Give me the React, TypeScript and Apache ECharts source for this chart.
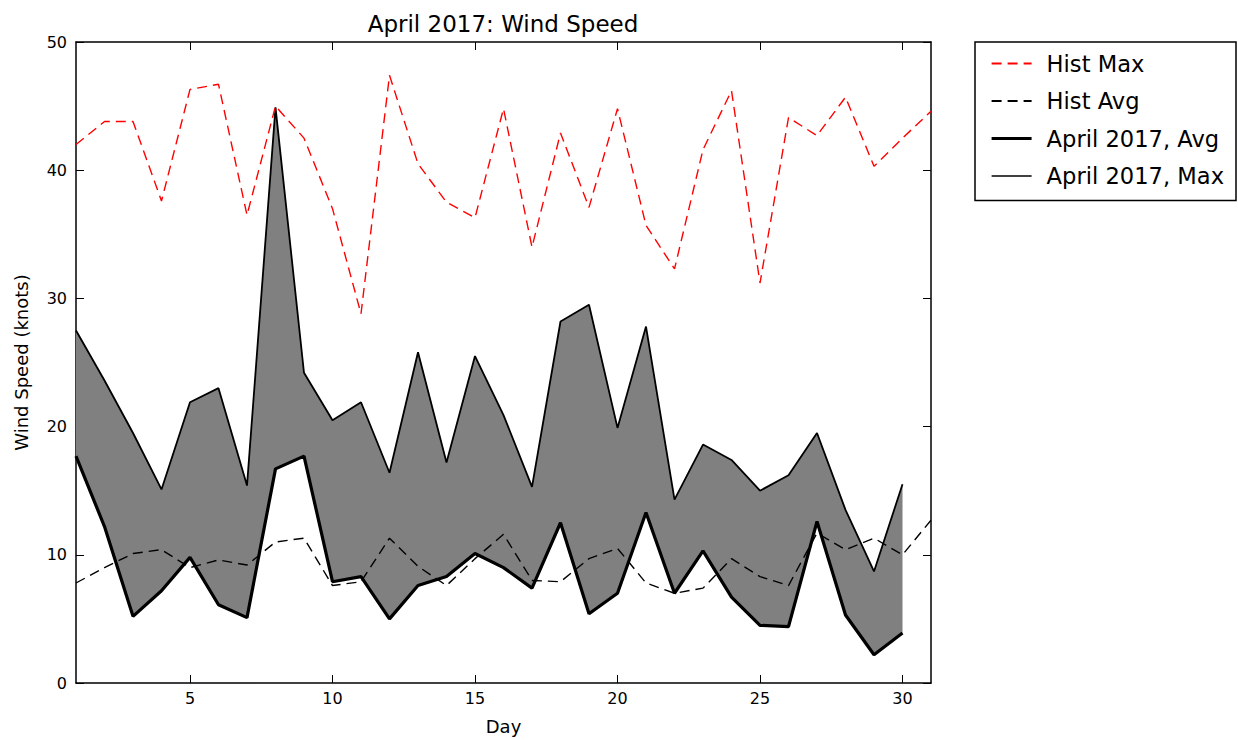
import React, { useEffect, useRef } from "react";
import * as echarts from "echarts";

const days: number[] = Array.from({ length: 31 }, (_, i) => i + 1);
const histMax: number[] = [42.0, 43.8, 43.8, 37.6, 46.3, 46.7, 36.5, 45.0, 42.5, 37.0, 28.8, 47.4, 40.5, 37.5, 36.3, 44.8, 34.0, 42.9, 37.1, 44.8, 35.7, 32.3, 41.6, 46.2, 31.2, 44.1, 42.7, 45.7, 40.3, 42.5, 44.6];
const histAvg: number[] = [7.8, 9.0, 10.1, 10.4, 9.0, 9.6, 9.2, 11.0, 11.3, 7.6, 7.9, 11.3, 9.1, 7.6, 9.7, 11.6, 8.0, 7.9, 9.7, 10.5, 7.8, 7.0, 7.4, 9.7, 8.3, 7.6, 11.7, 10.4, 11.3, 10.0, 12.7];
const aprAvg: number[] = [17.7, 12.2, 5.2, 7.2, 9.8, 6.1, 5.1, 16.7, 17.7, 7.9, 8.3, 5.0, 7.6, 8.3, 10.1, 9.0, 7.4, 12.5, 5.4, 7.0, 13.3, 7.0, 10.3, 6.7, 4.5, 4.4, 12.6, 5.3, 2.2, 3.9];
const aprMax: number[] = [27.5, 23.6, 19.5, 15.1, 21.9, 23.0, 15.4, 44.9, 24.2, 20.5, 21.9, 16.4, 25.8, 17.2, 25.5, 20.9, 15.3, 28.2, 29.5, 19.9, 27.8, 14.3, 18.6, 17.4, 15.0, 16.2, 19.5, 13.5, 8.7, 15.5];
const xTicks: number[] = [5, 10, 15, 20, 25, 30];

const FONT = "DejaVu Sans";

export default function App() {
  const ref = useRef<HTMLDivElement>(null);
  useEffect(() => {
    if (!ref.current) return;
    const chart = echarts.init(ref.current, null, { renderer: "svg" });
    const pair = (arr: number[]) => arr.map((v, i) => [days[i], v]);
    const bandRows = aprAvg.map((v, i) => [days[i], v, aprMax[i]]);
    const axisCommon = {
      type: "value" as const,
      axisLine: { show: true, onZero: false, lineStyle: { color: "#000", width: 1.5 } },
      splitLine: { show: false },
      axisTick: { show: true, inside: true, length: 8, lineStyle: { color: "#000", width: 1 } },
    };
    chart.setOption({
      animation: false,
      backgroundColor: "#fff",
      title: {
        text: "April 2017: Wind Speed",
        left: 498,
        top: 7,
        textAlign: "center",
        textStyle: { fontFamily: FONT, fontSize: 23, fontWeight: "normal", color: "#000" },
      },
      legend: {
        orient: "vertical",
        left: 975,
        top: 42,
        data: [
          { name: "Hist Max" },
          { name: "Hist Avg" },
          { name: "April 2017, Avg", lineStyle: { width: 3.2 } },
          { name: "April 2017, Max", lineStyle: { width: 1.5 } },
        ],
        itemWidth: 40,
        itemHeight: 14,
        itemGap: 14.5,
        padding: [10, 12, 13, 15],
        borderColor: "#000",
        borderWidth: 1.5,
        itemStyle: { opacity: 0 },
        textStyle: { fontFamily: FONT, fontSize: 22.6, color: "#000", padding: [0, 0, 0, 10] },
      },
      grid: { left: 76, right: 307, top: 42, bottom: 57 },
      xAxis: [
        {
          ...axisCommon,
          min: 1,
          max: 31,
          position: "bottom",
          name: "Day",
          nameLocation: "middle",
          nameGap: 34,
          nameTextStyle: { fontFamily: FONT, fontSize: 18, color: "#000" },
          axisTick: { ...axisCommon.axisTick, customValues: xTicks },
          axisLabel: { customValues: xTicks, fontFamily: FONT, fontSize: 16, color: "#000", margin: 7 },
        },
        {
          ...axisCommon,
          min: 1,
          max: 31,
          position: "top",
          axisTick: { ...axisCommon.axisTick, customValues: xTicks },
          axisLabel: { show: false, customValues: xTicks },
        },
      ],
      yAxis: [
        {
          ...axisCommon,
          min: 0,
          max: 50,
          interval: 10,
          position: "left",
          name: "Wind Speed (knots)",
          nameLocation: "middle",
          nameGap: 46,
          nameTextStyle: { fontFamily: FONT, fontSize: 18, color: "#000" },
          axisLabel: { fontFamily: FONT, fontSize: 16, color: "#000", margin: 9 },
        },
        {
          ...axisCommon,
          min: 0,
          max: 50,
          interval: 10,
          position: "right",
          axisLabel: { show: false },
        },
      ],
      series: [
        {
          name: "band",
          type: "custom",
          data: bandRows,
          encode: { x: 0, y: [1, 2] },
          silent: true,
          z: 1,
          renderItem: (params: any, api: any) => {
            if (params.dataIndex !== 0) return null;
            const upper = bandRows.map((r) => api.coord([r[0], r[2]]));
            const lower = bandRows.map((r) => api.coord([r[0], r[1]])).reverse();
            return {
              type: "polygon",
              shape: { points: upper.concat(lower) },
              style: { fill: "#808080", stroke: "none" },
            };
          },
        },
        {
          name: "April 2017, Max",
          type: "line",
          data: pair(aprMax),
          symbol: "none",
          color: "#000",
          lineStyle: { color: "#000", width: 1.8 },
          z: 3,
        },
        {
          name: "April 2017, Avg",
          type: "line",
          data: pair(aprAvg),
          symbol: "none",
          color: "#000",
          lineStyle: { color: "#000", width: 3.2 },
          z: 3,
        },
        {
          name: "Hist Avg",
          type: "line",
          data: pair(histAvg),
          symbol: "none",
          color: "#000",
          lineStyle: { color: "#000", width: 1.4, type: [10, 6] },
          z: 4,
        },
        {
          name: "Hist Max",
          type: "line",
          data: pair(histMax),
          symbol: "none",
          color: "#ff0000",
          lineStyle: { color: "#ff0000", width: 1.4, type: [10, 6] },
          z: 4,
        },
      ],
    });
    return () => chart.dispose();
  }, []);
  return (
    <div
      ref={ref}
      style={{ position: "absolute", left: 0, top: 0, width: 1238, height: 740 }}
    />
  );
}
